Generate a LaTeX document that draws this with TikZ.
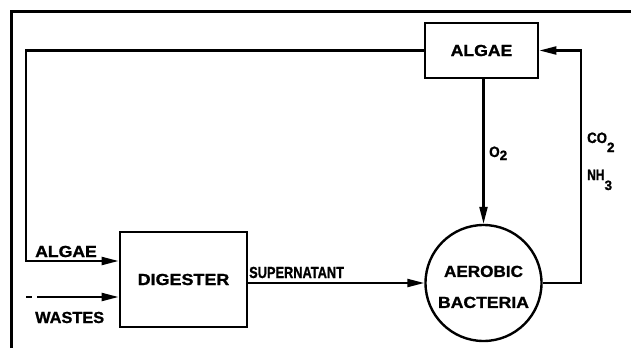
\documentclass[tikz,border=0pt]{standalone}
\usepackage{fontspec}
\setmainfont{Liberation Sans}[BoldFeatures={FakeBold=1.2}]
\usetikzlibrary{arrows.meta,calc}
\newcommand\sx[2]{\scalebox{#1}[1]{#2}}
\newcommand\sub[2]{\raisebox{#1}{\fontsize{13.5}{14}\selectfont #2}}
\begin{document}
\begin{tikzpicture}[x=1pt,y=-1pt,
  txt/.style={font=\fontsize{16}{31}\selectfont\bfseries},
  small/.style={font=\fontsize{15}{16}\selectfont\bfseries},
  blk/.style={draw,line width=2.8pt,rectangle,inner sep=0pt,txt},
  rnd/.style={draw,line width=2.4pt,circle,inner sep=0pt,txt,align=center},
  conn/.style={line width=2.2pt},
  arr/.style={conn,-{Triangle[length=17pt,width=8pt]}},
  lbl/.style={txt,inner sep=0pt}]
\useasboundingbox (0,0) rectangle (631,348);
% frame
\draw[line width=3pt] (11,348) -- (11,11) -- (631,11);
% nodes
\node[blk,minimum width=113pt,minimum height=55pt] (algae) at (481.5,50.5) {\sx{1.1}{ALGAE}};
\node[blk,minimum width=127pt,minimum height=95pt] (dig) at (183.5,279.5) {\sx{1.12}{DIGESTER}};
\node[rnd,minimum size=116pt] (bact) at (483.5,283) {\rule{0pt}{19pt}\sx{1.07}{AEROBIC}\\\sx{1.1}{BACTERIA}};
% helper coordinates
\coordinate (fbx) at (26,0);
\coordinate (dA) at ([yshift=18.5pt]dig.west);
\coordinate (dW) at ([yshift=-17.5pt]dig.west);
\coordinate (w0) at (26,297);
% connectors
\draw[arr] (algae.west) -- (algae.west -| fbx) |- (dA);
\draw[arr,dash pattern=on 6pt off 5pt on 300pt] (w0) -- (dW);
\draw[arr] (dig.east |- bact.west) -- (bact.west);
\draw[arr] (bact.north |- algae.south) -- (bact.north);
\draw[arr] (bact.east) -- ++(38,0) |- (algae.east);
% labels
\node[lbl,anchor=base west] (lAl) at (35,257) {\sx{1.1}{ALGAE}};
\node[lbl,anchor=base west] (lWa) at (35,323) {\sx{1.02}{WASTES}};
\node[lbl,anchor=base west] (lSu) at (249,278) {\sx{0.8}{SUPERNATANT}};
\node[lbl,small,anchor=base west] (lO2) at (489,157) {\sx{0.9}{O}\sub{-3pt}{2}};
\node[lbl,small,anchor=base west] (lCO) at (587,143) {\sx{0.88}{CO}\sub{-9pt}{2}};
\node[lbl,small,anchor=base west] (lNH) at (587,180) {\sx{0.8}{NH}\sub{-10pt}{3}};
\end{tikzpicture}
\end{document}
